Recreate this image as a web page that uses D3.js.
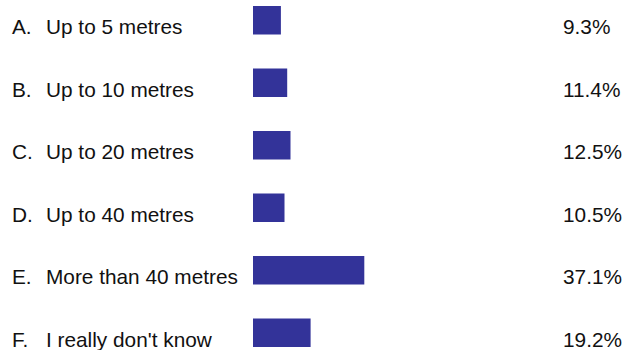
<!DOCTYPE html>
<html>
<head>
<meta charset="utf-8">
<script src="https://cdn.jsdelivr.net/npm/d3@7"></script>
<style>
  html, body { margin: 0; padding: 0; background: #fff; }
  svg { display: block; }
</style>
</head>
<body>
<script>
// Survey answers and their shares of respondents (%)
const letters = ["A.", "B.", "C.", "D.", "E.", "F."];
const answers = ["Up to 5 metres", "Up to 10 metres", "Up to 20 metres", "Up to 40 metres", "More than 40 metres", "I really don't know"];
const shares = [9.3, 11.4, 12.5, 10.5, 37.1, 19.2];

const W = 627, H = 350;
const rows = answers.map((a, i) => ({ letter: letters[i], answer: a, value: shares[i] }));

const svg = d3.select("body").append("svg")
  .attr("width", W).attr("height", H);

const y = d3.scaleBand()
  .domain(answers)
  .range([6, 347])
  .paddingInner(0.544)
  .paddingOuter(0);

const x = d3.scaleLinear()
  .domain([0, 100])
  .range([253, 553]);

const font = "'Liberation Sans', Arial, Helvetica, sans-serif";
const fontSize = 20.8;

const g = svg.selectAll("g.row").data(rows).join("g").attr("class", "row");

g.append("rect")
  .attr("x", x(0))
  .attr("y", d => y(d.answer))
  .attr("width", d => x(d.value) - x(0))
  .attr("height", y.bandwidth())
  .attr("fill", "#333399");

const baseline = d => y(d.answer) + y.bandwidth() - 0.3;

const label = (sel, xPos, fn) => sel.append("text")
  .attr("x", xPos)
  .attr("y", baseline)
  .attr("font-family", font)
  .attr("font-size", fontSize)
  .attr("fill", "#111")
  .text(fn);

label(g, 12, d => d.letter);
label(g, 46, d => d.answer);
label(g, 563, d => d.value.toFixed(1) + "%");
</script>
</body>
</html>
